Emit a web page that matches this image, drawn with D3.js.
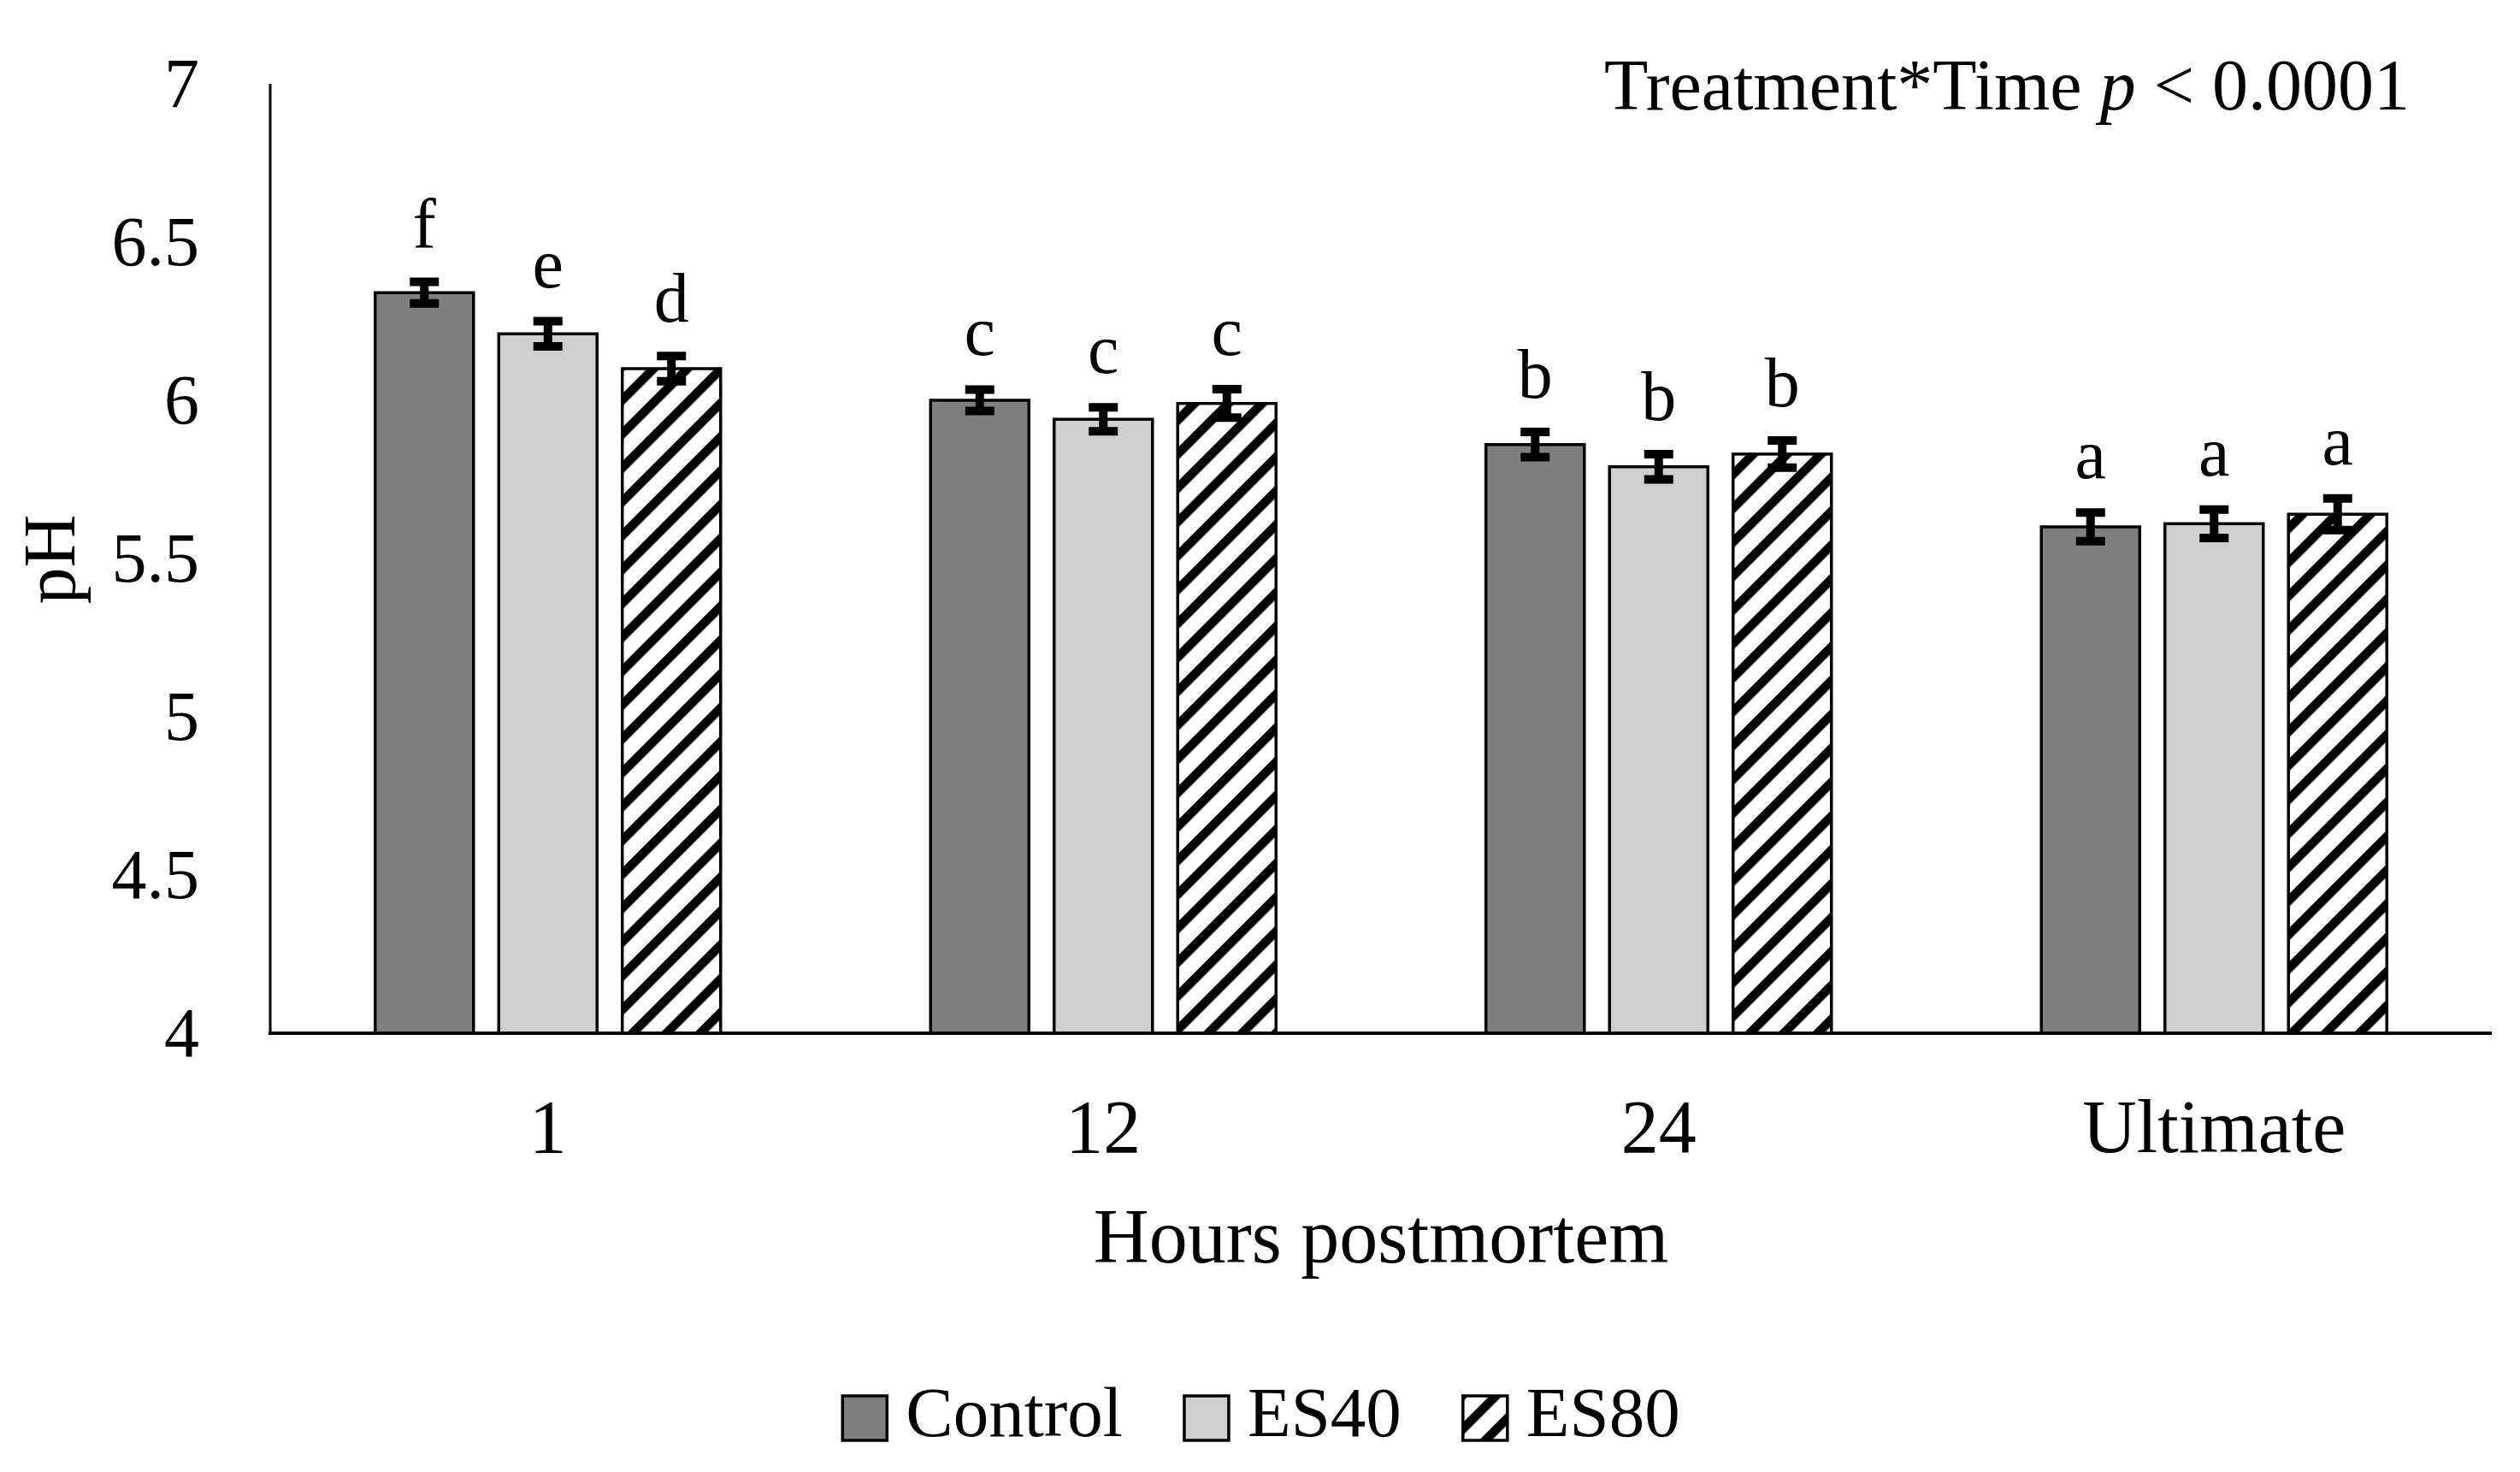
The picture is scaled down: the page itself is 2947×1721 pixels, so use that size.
<!DOCTYPE html>
<html>
<head>
<meta charset="utf-8">
<script src="https://cdn.jsdelivr.net/npm/d3@7"></script>
<style>
  body { margin: 0; background: #fff; }
  text { font-family: "Liberation Serif", "Times New Roman", serif; fill: #000; }
</style>
</head>
<body>
<svg id="chart" width="2947" height="1721"></svg>
<script>
// data
const times = ['1', '12', '24', 'Ultimate'];
const treatments = ['Control', 'ES40', 'ES80'];
const controlPH = [6.34, 6.00, 5.86, 5.60];
const es40PH    = [6.21, 5.94, 5.79, 5.61];
const es80PH    = [6.10, 5.99, 5.83, 5.64];
const controlSE = [0.034, 0.034, 0.04, 0.045];
const es40SE    = [0.04, 0.038, 0.04, 0.045];
const es80SE    = [0.04, 0.045, 0.043, 0.05];
const controlLetters = ['f', 'c', 'b', 'a'];
const es40Letters    = ['e', 'c', 'b', 'a'];
const es80Letters    = ['d', 'c', 'b', 'a'];
const yTicks = [4, 4.5, 5, 5.5, 6, 6.5, 7];

const fills = { Control: '#7f7f7f', ES40: '#d0cfd0', ES80: 'url(#hatch)' };

const means = { Control: controlPH, ES40: es40PH, ES80: es80PH };
const ses = { Control: controlSE, ES40: es40SE, ES80: es80SE };
const letters = { Control: controlLetters, ES40: es40Letters, ES80: es80Letters };

const rows = [];
times.forEach((t, i) => {
  treatments.forEach(s => {
    rows.push({ time: t, series: s, v: means[s][i], se: ses[s][i], letter: letters[s][i] });
  });
});

const svg = d3.select('#chart');
const plotL = 316, plotR = 2914, plotT = 98, plotB = 1208;

const defs = svg.append('defs');
const pat = defs.append('pattern')
    .attr('id', 'hatch')
    .attr('patternUnits', 'userSpaceOnUse')
    .attr('width', 28).attr('height', 28)
    .attr('patternTransform', 'rotate(45)');
pat.append('rect').attr('width', 28).attr('height', 28).attr('fill', '#fff');
pat.append('rect').attr('width', 10.5).attr('height', 28).attr('fill', '#000');

const y = d3.scaleLinear().domain([4, 7]).range([plotB, plotT]);
const x0 = d3.scaleBand().domain(times).range([plotL, plotR]).paddingInner(0.378).paddingOuter(0.189);
const x1 = d3.scaleBand().domain(treatments).range([0, x0.bandwidth()]).paddingInner(0.204);

// y axis labels (no tick marks)
svg.append('g')
  .selectAll('text')
  .data(yTicks)
  .join('text')
    .attr('x', 233)
    .attr('y', d => y(d))
    .attr('dy', '0.33em')
    .attr('text-anchor', 'end')
    .style('font-size', '82px')
    .text(d => d);

// bars
svg.append('g')
  .selectAll('rect')
  .data(rows)
  .join('rect')
    .attr('x', d => x0(d.time) + x1(d.series))
    .attr('y', d => y(d.v))
    .attr('width', x1.bandwidth())
    .attr('height', d => y(4) - y(d.v))
    .attr('fill', d => fills[d.series])
    .attr('stroke', '#000')
    .attr('stroke-width', 3.5);

// error bars
const cx = d => x0(d.time) + x1(d.series) + x1.bandwidth() / 2;
const err = svg.append('g').attr('stroke', '#000').attr('stroke-width', 10);
err.selectAll('line.stem').data(rows).join('line').attr('class', 'stem')
    .attr('x1', cx).attr('x2', cx)
    .attr('y1', d => y(d.v + d.se)).attr('y2', d => y(d.v - d.se));
err.selectAll('line.capt').data(rows).join('line').attr('class', 'capt')
    .attr('x1', d => cx(d) - 17).attr('x2', d => cx(d) + 17)
    .attr('y1', d => y(d.v + d.se)).attr('y2', d => y(d.v + d.se));
err.selectAll('line.capb').data(rows).join('line').attr('class', 'capb')
    .attr('x1', d => cx(d) - 17).attr('x2', d => cx(d) + 17)
    .attr('y1', d => y(d.v - d.se)).attr('y2', d => y(d.v - d.se));

// significance letters
svg.append('g')
  .selectAll('text')
  .data(rows)
  .join('text')
    .attr('x', cx)
    .attr('y', d => y(d.v + d.se) - 40)
    .attr('text-anchor', 'middle')
    .style('font-size', '82px')
    .text(d => d.letter);

// axis lines
svg.append('line')
    .attr('x1', plotL).attr('x2', plotL)
    .attr('y1', y(7)).attr('y2', y(4))
    .attr('stroke', '#000').attr('stroke-width', 3);
svg.append('line')
    .attr('x1', plotL - 2).attr('x2', plotR)
    .attr('y1', y(4)).attr('y2', y(4))
    .attr('stroke', '#000').attr('stroke-width', 4);

// x labels
svg.append('g')
  .selectAll('text')
  .data(times)
  .join('text')
    .attr('x', d => x0(d) + x0.bandwidth() / 2)
    .attr('y', 1347)
    .attr('text-anchor', 'middle')
    .style('font-size', '88px')
    .text(d => d);

// axis titles
svg.append('text')
    .attr('x', (plotL + plotR) / 2)
    .attr('y', 1476)
    .attr('text-anchor', 'middle')
    .style('font-size', '90px')
    .text('Hours postmortem');

svg.append('text')
    .attr('transform', 'translate(87,654) rotate(-90)')
    .attr('text-anchor', 'middle')
    .style('font-size', '86px')
    .text('pH');

// interaction note
const note = svg.append('text')
    .attr('x', 2818)
    .attr('y', 128)
    .attr('text-anchor', 'end')
    .style('font-size', '84px');
note.append('tspan').text('Treatment*Time ');
note.append('tspan').style('font-style', 'italic').text('p');
note.append('tspan').text(' < 0.0001');

// legend
const legend = svg.append('g');
const items = legend.selectAll('g').data(treatments).join('g');
items.append('rect')
    .attr('width', 52).attr('height', 52)
    .attr('y', 1632)
    .attr('fill', d => fills[d])
    .attr('stroke', '#000').attr('stroke-width', 3.5);
items.append('text')
    .attr('x', 74)
    .attr('y', 1679)
    .style('font-size', '83px')
    .text(d => d);
const widths = [];
items.each(function() {
  const w = d3.select(this).select('text').node().getComputedTextLength();
  widths.push(74 + w);
});
const gap = 72;
const total = d3.sum(widths) + gap * (widths.length - 1);
let pos = 1475 - total / 2;
items.each(function(d, i) {
  d3.select(this).attr('transform', `translate(${pos},0)`);
  pos += widths[i] + gap;
});
</script>
</body>
</html>
